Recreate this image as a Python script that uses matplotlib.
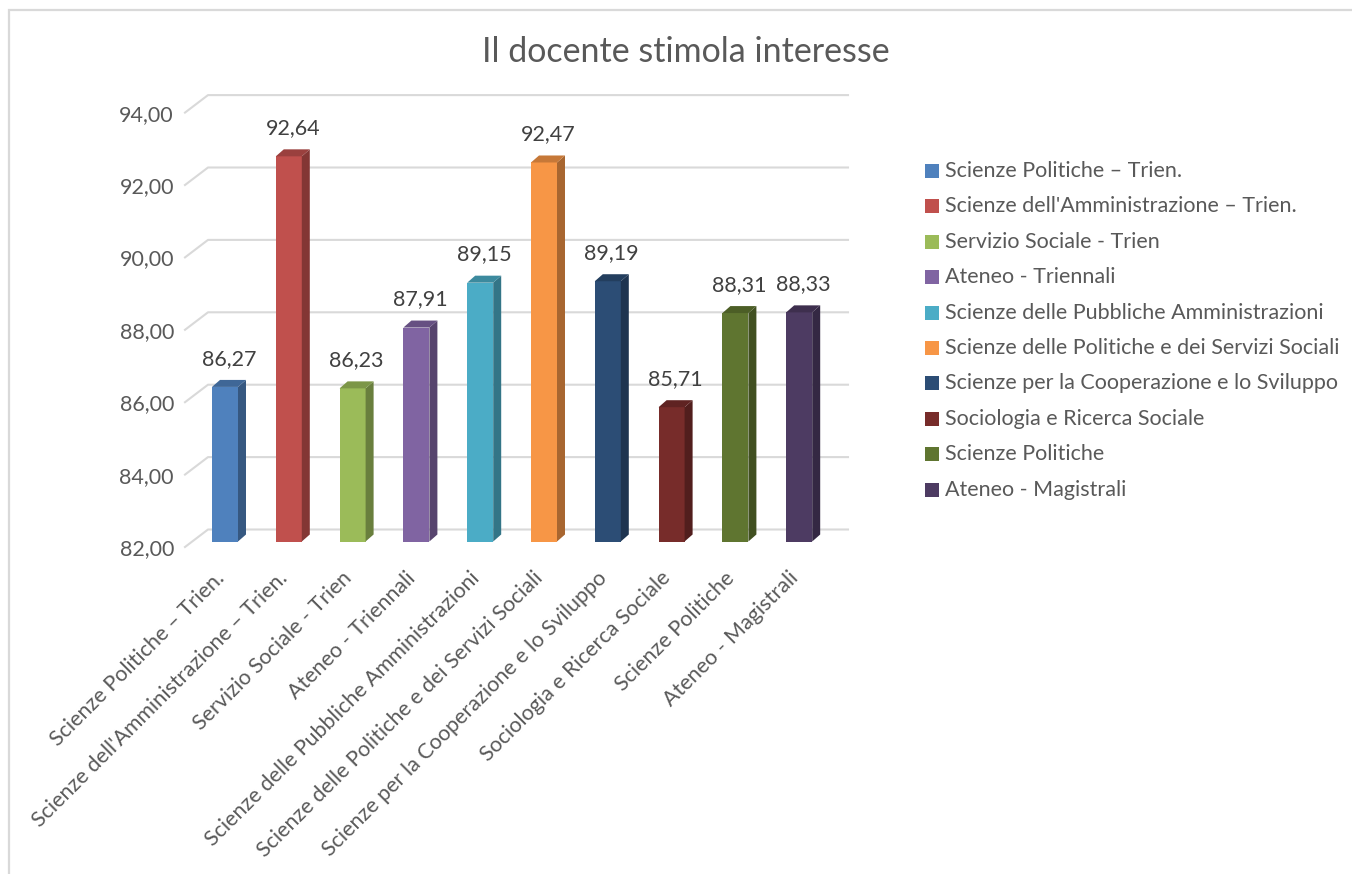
import matplotlib
matplotlib.use("Agg")
import matplotlib.pyplot as plt
from matplotlib.patches import Polygon, Rectangle
import matplotlib.transforms as mtransforms
import numpy as np

plt.rcParams['font.family'] = ['Lato', 'DejaVu Sans']

# dati
corsi = ["Scienze Politiche \u2013 Trien.",
         "Scienze dell'Amministrazione \u2013 Trien.",
         "Servizio Sociale - Trien",
         "Ateneo - Triennali",
         "Scienze delle Pubbliche Amministrazioni",
         "Scienze delle Politiche e dei Servizi Sociali",
         "Scienze per la Cooperazione e lo Sviluppo",
         "Sociologia e Ricerca Sociale",
         "Scienze Politiche",
         "Ateneo - Magistrali"]
valori = [86.27, 92.64, 86.23, 87.91, 89.15, 92.47, 89.19, 85.71, 88.31, 88.33]
colori = ["#4F81BD", "#C0504D", "#9BBB59", "#8064A2", "#4BACC6",
          "#F79646", "#2C4D75", "#772C2A", "#5F7530", "#4D3B62"]
yticks = [82, 84, 86, 88, 90, 92, 94]
titolo = "Il docente stimola interesse"

W, H = 1352, 874
grigio = "#595959"
fs = 15.5

def scuro(c, f):
    c = np.array(matplotlib.colors.to_rgb(c))
    return tuple(c * f)

fig = plt.figure(figsize=(W / 100, H / 100), dpi=100)
# bordo del grafico
fig.patches.append(Rectangle((9 / W, -0.01), 1.0, 1 - 10 / H + 0.01, transform=fig.transFigure,
                             fill=False, edgecolor="#D9D9D9", linewidth=1.6))

px_x, px_y = 63.8, 36.2   # pixel per unita
ax = fig.add_axes([185 / W, (H - 547) / H, (848 - 185) / W, 12.5 * px_y / H])
x0 = -40 / px_x
xr = x0 + 663 / px_x
ax.set_xlim(x0, xr)
ax.set_ylim(82, 94.5)
for s in ax.spines.values():
    s.set_visible(False)

# griglia sulla parete di fondo
gdx, gdy = 23 / px_x, 17.5 / px_y
for t in yticks:
    ax.plot([x0, x0 + gdx, xr], [t, t + gdy, t + gdy], color="#D9D9D9",
            lw=1.5, zorder=0, clip_on=False)

# barre 3d
w = 26 / px_x
ddx, ddy = 8 / px_x, 7 / px_y
off = 5.5 / px_y
x = np.arange(len(valori))
ax.bar(x, np.array(valori) - 82, bottom=82 + off, width=w, color=colori, zorder=2)
for i, v in enumerate(valori):
    c = colori[i]
    b, t = 82 + off, v + off
    ax.add_patch(Polygon([(i + w / 2, b), (i + w / 2 + ddx, b + ddy),
                          (i + w / 2 + ddx, t + ddy), (i + w / 2, t)],
                         closed=True, facecolor=scuro(c, 0.68), edgecolor="none", zorder=2))
    ax.add_patch(Polygon([(i - w / 2, t), (i - w / 2 + ddx, t + ddy),
                          (i + w / 2 + ddx, t + ddy), (i + w / 2, t)],
                         closed=True, facecolor=scuro(c, 0.8), edgecolor="none", zorder=2))
    ax.annotate(f"{v:.2f}".replace(".", ","), (i + ddx / 2, t + ddy), xytext=(0, 8),
                textcoords="offset points", ha="center", va="bottom",
                fontsize=fs, color="#404040", annotation_clip=False)

ax.set_yticks(yticks)
ax.set_yticklabels([f"{t:.2f}".replace(".", ",") for t in yticks], fontsize=fs, color=grigio)
ax.tick_params(axis="y", length=0, pad=8)
ax.set_xticks(x)
ax.set_xticklabels(corsi, rotation=45, ha="right", va="center", rotation_mode="anchor",
                   fontsize=fs, color=grigio)
ax.tick_params(axis="x", length=0, pad=20)
# piccolo spostamento a sinistra delle etichette
sposta = mtransforms.ScaledTranslation(-4 / 100, 0, fig.dpi_scale_trans)
for lab in ax.get_xticklabels():
    lab.set_transform(lab.get_transform() + sposta)

fig.text(686 / W, 1 - 52 / H, titolo, ha="center", va="center", fontsize=24.5, color=grigio)

# legenda
for i, nome in enumerate(corsi):
    yc = 1 - (171 + 35.4 * i) / H
    fig.patches.append(Rectangle((925 / W, yc - 7 / H), 14 / W, 14 / H, transform=fig.transFigure,
                                 facecolor=colori[i], edgecolor="none"))
    fig.text(945 / W, yc, nome, ha="left", va="center", fontsize=fs, color=grigio)

plt.savefig("out.png", dpi=100)
